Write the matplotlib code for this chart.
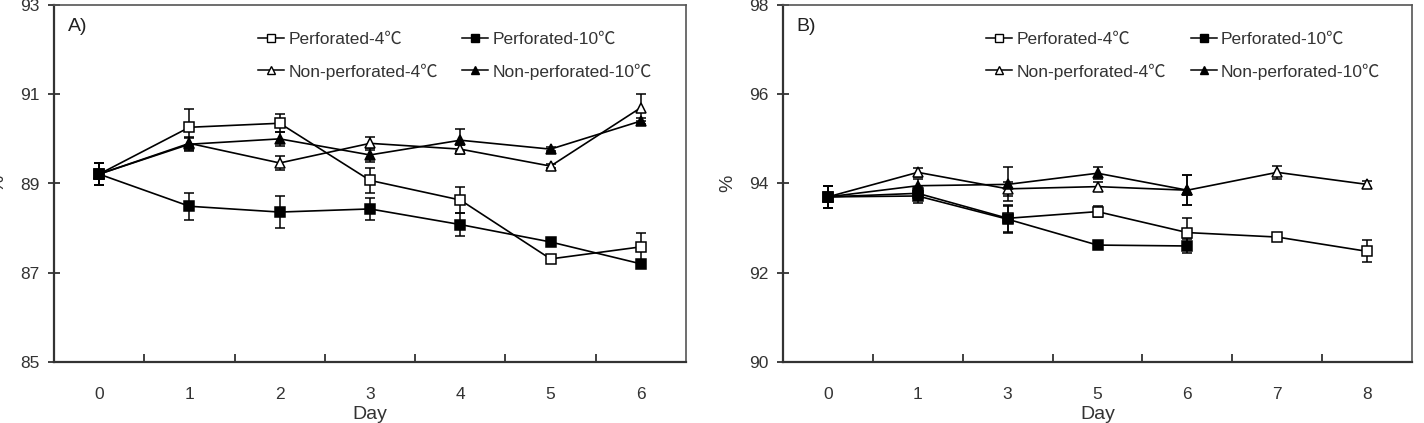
import numpy as np
import matplotlib
matplotlib.use("Agg")
import matplotlib.pyplot as plt

plt.rcParams['font.family'] = ['Liberation Sans', 'Noto Sans CJK SC', 'DejaVu Sans']

# ---------------- data ----------------
series_names = ["Perforated-4℃", "Perforated-10℃", "Non-perforated-4℃", "Non-perforated-10℃"]

days_a = ["0", "1", "2", "3", "4", "5", "6"]
a_perf4 = [89.21, 90.26, 90.35, 89.07, 88.63, 87.31, 87.58]
a_perf4_err = [0.25, 0.40, 0.20, 0.28, 0.30, 0.05, 0.30]
a_perf10 = [89.21, 88.49, 88.36, 88.43, 88.08, 87.69, 87.20]
a_perf10_err = [0.25, 0.30, 0.35, 0.25, 0.25, 0.05, 0.05]
a_non4 = [89.21, 89.90, 89.46, 89.90, 89.77, 89.39, 90.70]
a_non4_err = [0.25, 0.15, 0.15, 0.15, 0.10, 0.05, 0.30]
a_non10 = [89.21, 89.88, 90.00, 89.64, 89.97, 89.77, 90.40]
a_non10_err = [0.25, 0.15, 0.15, 0.15, 0.25, 0.05, 0.06]

days_b = ["0", "1", "3", "5", "6", "7", "8"]
nan = np.nan
b_perf4 = [93.70, 93.78, 93.22, 93.37, 92.90, 92.80, 92.48]
b_perf4_err = [0.25, 0.15, 0.30, 0.13, 0.33, 0.05, 0.25]
b_perf10 = [93.70, 93.72, 93.20, 92.62, 92.60, nan, nan]
b_perf10_err = [0.25, 0.15, 0.30, 0.05, 0.15, nan, nan]
b_non4 = [93.70, 94.25, 93.88, 93.93, 93.85, 94.25, 93.98]
b_non4_err = [0.25, 0.10, 0.15, 0.10, 0.33, 0.15, 0.08]
b_non10 = [93.70, 93.95, 93.98, 94.23, 93.85, nan, nan]
b_non10_err = [0.25, 0.15, 0.38, 0.13, 0.33, nan, nan]

styles = [
    dict(marker='s', mfc='white'),
    dict(marker='s', mfc='black'),
    dict(marker='^', mfc='white'),
    dict(marker='^', mfc='black'),
]

fig = plt.figure(figsize=(14.24, 4.23), dpi=100)
axA = fig.add_axes([54/1424, 1-362/423, 632/1424, 357/423])
axB = fig.add_axes([783/1424, 1-362/423, 629/1424, 357/423])

def draw(ax, labels, data, ylim, yticks, tag):
    x = np.arange(len(labels))
    handles = []
    for (vals, errs), st, name in zip(data, styles, series_names):
        vals = np.array(vals, dtype=float)
        errs = np.array(errs, dtype=float)
        m = ~np.isnan(vals)
        ax.errorbar(x[m], vals[m], yerr=errs[m], color='black', lw=1.2,
                    marker=st['marker'], mfc=st['mfc'], mec='black',
                    ms=7, mew=1.1,
                    capsize=3.5, elinewidth=1.1, capthick=1.1, zorder=3)
        h, = ax.plot([], [], color='black', lw=1.1, marker=st['marker'],
                     mfc=st['mfc'], mec='black', ms=6, mew=1.0)
        handles.append(h)
    ax.set_xlim(-0.5, len(labels) - 0.5)
    ax.set_ylim(*ylim)
    ax.set_yticks(yticks)
    ax.set_yticklabels([str(t) for t in yticks], fontsize=12.5, color='#333333')
    ax.set_xticks(x)
    ax.set_xticklabels(labels, fontsize=12.5, color='#333333')
    ax.set_xticks(np.arange(len(labels) - 1) + 0.5, minor=True)
    ax.tick_params(axis='x', which='major', length=0, pad=18)
    ax.tick_params(axis='x', which='minor', direction='in', length=6, width=1.3, color='#333333')
    ax.tick_params(axis='y', which='major', direction='inout', length=9, width=1.3,
                   color='#333333', pad=6)
    for s in ['left', 'bottom']:
        ax.spines[s].set_linewidth(1.6)
        ax.spines[s].set_color('#333333')
    for s in ['top', 'right']:
        ax.spines[s].set_linewidth(1.2)
        ax.spines[s].set_color('#555555')
    ax.set_xlabel("Day", fontsize=14, color='#333333', labelpad=3)
    ax.set_ylabel("%", fontsize=14, color='#333333', labelpad=9)
    ax.text(0.022, 0.94, tag, transform=ax.transAxes, fontsize=14, color='#222222',
            va='center', ha='left')
    order = [0, 2, 1, 3]
    leg = ax.legend([handles[i] for i in order], [series_names[i] for i in order],
                    ncol=2, loc='upper left', bbox_to_anchor=(0.312, 0.945),
                    frameon=False, fontsize=12.5, handlelength=1.5, handletextpad=0.25,
                    columnspacing=1.4, labelspacing=0.95, borderaxespad=0)
    for t in leg.get_texts():
        t.set_color('#333333')

draw(axA, days_a,
     [(a_perf4, a_perf4_err), (a_perf10, a_perf10_err), (a_non4, a_non4_err), (a_non10, a_non10_err)],
     (85, 93), [85, 87, 89, 91, 93], "A)")
draw(axB, days_b,
     [(b_perf4, b_perf4_err), (b_perf10, b_perf10_err), (b_non4, b_non4_err), (b_non10, b_non10_err)],
     (90, 98), [90, 92, 94, 96, 98], "B)")

fig.savefig("out.png", dpi=100)
